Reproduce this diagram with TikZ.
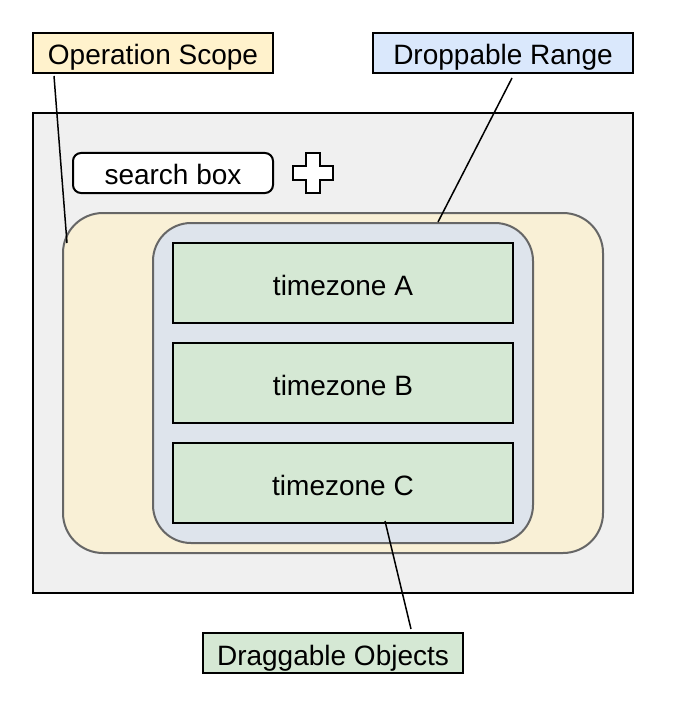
\documentclass[tikz,border=0pt]{standalone}
\usepackage{fontspec}
\setmainfont{Liberation Sans}
\usetikzlibrary{calc}
\definecolor{opfill}{HTML}{FFF2CC}
\definecolor{drfill}{HTML}{DAE8FC}
\definecolor{dgfill}{HTML}{D5E8D4}
\definecolor{outerfill}{HTML}{F0F0F0}
\definecolor{scopefill}{HTML}{F9F0D6}
\definecolor{rangefill}{HTML}{DEE4EC}
\definecolor{softline}{HTML}{666666}
\tikzset{
  txt/.style={font=\fontsize{28}{32}\selectfont, text height=24pt, text depth=0pt, inner sep=0pt},
  lbl/.style={txt, draw=black, line width=2pt},
  tz/.style={txt, draw=black, line width=2pt, fill=dgfill, minimum width=340pt, minimum height=80pt},
  conn/.style={line width=1.5pt, black}
}
\begin{document}
\begin{tikzpicture}[x=1pt,y=-1pt]
\useasboundingbox (0,0) rectangle (682,722);
% outer gray area
\node[draw=black, line width=2pt, fill=outerfill, minimum width=600pt, minimum height=480pt, inner sep=0pt] (outer) at (333,353) {};
% search box
\node[txt, draw=black, line width=2pt, fill=white, rounded corners=8pt, minimum width=200pt, minimum height=40pt] (search) at (173,173) {search box};
% plus icon
\draw[line width=2pt, fill=white] (306,153) -- (320,153) -- (320,166) -- (333,166) -- (333,180) -- (320,180) -- (320,193) -- (306,193) -- (306,180) -- (293,180) -- (293,166) -- (306,166) -- cycle;
% operation scope area
\node[draw=softline, line width=2pt, fill=scopefill, rounded corners=40pt, minimum width=540pt, minimum height=340pt, inner sep=0pt] (scope) at (333,383) {};
% droppable range area
\node[draw=softline, line width=2pt, fill=rangefill, rounded corners=38pt, minimum width=380pt, minimum height=320pt, inner sep=0pt] (range) at (343,383) {};
% timezones
\node[tz] (tzA) at (343,283) {timezone A};
\node[tz] (tzB) at (343,383) {timezone B};
\node[tz] (tzC) at (343,483) {timezone C};
% labels
\node[lbl, fill=opfill, minimum width=240pt, minimum height=40pt] (opl) at (153,53) {Operation Scope};
\node[lbl, fill=drfill, minimum width=260pt, minimum height=40pt] (drl) at (503,53) {Droppable Range};
\node[lbl, fill=dgfill, minimum width=260pt, minimum height=40pt] (dgl) at (333,653) {Draggable Objects};
% connector anchors
\coordinate (opS) at ($(opl.south west)+(22,2)$);
\coordinate (scopeP) at ($(scope.west)+(5,-140)$);
\coordinate (drS) at ($(drl.south west)+(140,4)$);
\coordinate (rangeP) at ($(range.north)+(95,0)$);
\coordinate (tzCP) at ($(tzC.south)+(42,-3)$);
\coordinate (dgN) at ($(dgl.north)+(78,-3)$);
\draw[conn] (opS) -- (scopeP);
\draw[conn] (drS) -- (rangeP);
\draw[conn] (tzCP) -- (dgN);
\end{tikzpicture}
\end{document}
